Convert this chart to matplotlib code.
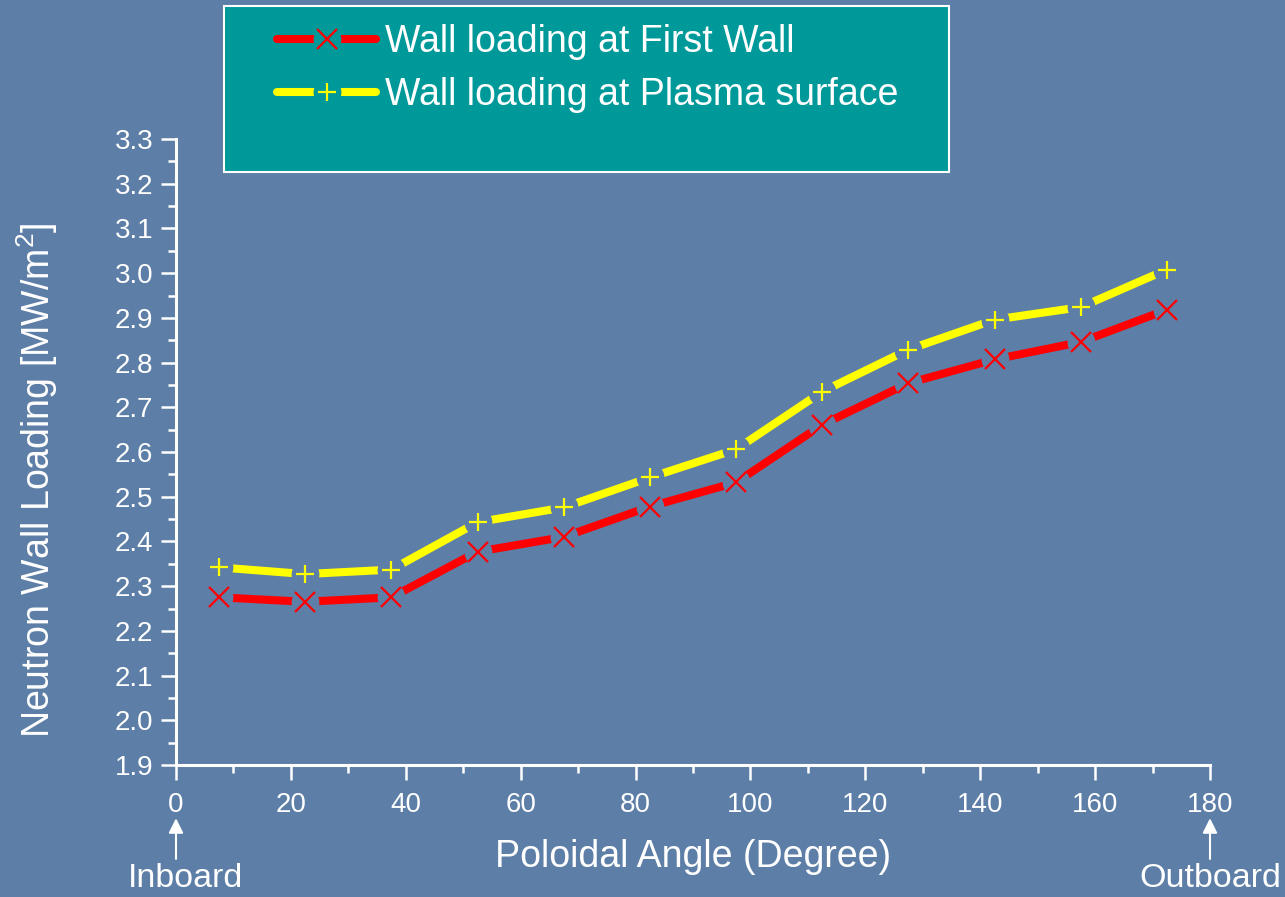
import numpy as np
import matplotlib
matplotlib.use("Agg")
import matplotlib.pyplot as plt
from matplotlib.lines import Line2D
from matplotlib.patches import Rectangle
from matplotlib.legend_handler import HandlerTuple
from matplotlib.ticker import MultipleLocator

plt.rcParams["font.family"] = ["Liberation Sans", "DejaVu Sans"]
plt.rcParams["mathtext.default"] = "regular"

# poloidal angle of each segment centre (degree)
angle = [7.5, 22.5, 37.5, 52.5, 67.5, 82.5, 97.5, 112.5, 127.5, 142.5, 157.5, 172.5]
first_wall = [2.275, 2.265, 2.275, 2.377, 2.41, 2.478, 2.532, 2.661, 2.754, 2.807, 2.846, 2.918]
plasma_surface = [2.342, 2.327, 2.337, 2.443, 2.476, 2.543, 2.606, 2.735, 2.829, 2.896, 2.924, 3.008]

BG = "#5d7ea6"
LEG_BG = "#009999"
RED = "#ff0000"
YELLOW = "#ffff00"

fig = plt.figure(figsize=(12.85, 8.97), dpi=100, facecolor=BG)
ax = fig.add_axes([176 / 1285, 1 - 765 / 897, 1034 / 1285, 626 / 897])
ax.set_facecolor("none")

series = [
    (first_wall, RED, "x", 14, "Wall loading at First Wall"),
    (plasma_surface, YELLOW, "+", 13, "Wall loading at Plasma surface"),
]
handles = []
for k, (vals, col, mk, ms, lab) in enumerate(series):
    z = 2 + 3 * k
    ax.plot(angle, vals, color=col, lw=5.8, solid_capstyle="round", zorder=z)
    # gaps in the line around each marker
    ax.plot(angle, vals, ls="none", marker="o", ms=20, mfc=BG, mec="none", zorder=z + 1)
    ax.plot(angle, vals, ls="none", marker=mk, ms=ms, mec=col, mew=1.6, zorder=z + 2)
    handles.append((
        Line2D([], [], color=col, lw=5.8, solid_capstyle="round"),
        Line2D([], [], ls="none", marker="o", ms=20, mfc=LEG_BG, mec="none"),
        Line2D([], [], ls="none", marker=mk, ms=ms, mec=col, mew=1.6),
    ))

ax.set_xlim(0, 180)
ax.set_ylim(1.9, 3.3)
ax.xaxis.set_major_locator(MultipleLocator(20))
ax.xaxis.set_minor_locator(MultipleLocator(10))
ax.yaxis.set_major_locator(MultipleLocator(0.1))
ax.yaxis.set_minor_locator(MultipleLocator(0.05))
ax.yaxis.set_major_formatter(matplotlib.ticker.FormatStrFormatter("%.1f"))

for s in ["top", "right"]:
    ax.spines[s].set_visible(False)
for s in ["left", "bottom"]:
    ax.spines[s].set_color("white")
    ax.spines[s].set_linewidth(2.2)

ax.tick_params(which="major", length=10.5, width=1.8, color="white",
               labelcolor="white", labelsize=20)
ax.tick_params(which="minor", length=5.5, width=1.8, color="white")
ax.tick_params(axis="y", which="major", pad=6)
ax.tick_params(axis="x", which="major", pad=9)

ax.set_xlabel("Poloidal Angle (Degree)", fontsize=27, color="white")
ax.xaxis.set_label_coords(0.5, -0.118)
ax.set_ylabel("Neutron Wall Loading [MW/m$^2$]", fontsize=27, color="white")
ax.yaxis.set_label_coords(-0.112, 0.455)

# inboard / outboard markers
xt = ax.get_xaxis_transform()
for x, tx, label in [(0, 1.6, "Inboard"), (180, 180, "Outboard")]:
    ax.annotate("", xy=(x, -0.085), xytext=(x, -0.15), xycoords=xt, textcoords=xt,
                arrowprops=dict(arrowstyle="-|>", color="white", lw=1.5,
                                mutation_scale=22, shrinkA=0, shrinkB=0),
                annotation_clip=False)
    ax.text(tx, -0.182, label, transform=xt, ha="center", va="center",
            fontsize=24.5, color="white", clip_on=False)

# legend box
fig.patches.append(Rectangle((224 / 1285, 1 - 172 / 897), 725 / 1285, 166 / 897,
                             transform=fig.transFigure, facecolor=LEG_BG,
                             edgecolor="white", lw=1.5, zorder=0))
fig.legend(handles, [s[4] for s in series], loc="upper left",
           bbox_to_anchor=(277 / 1285, 1 - 24 / 897), frameon=False,
           fontsize=27, labelcolor="white", numpoints=1,
           handlelength=2.64, handletextpad=0.25, labelspacing=0.45,
           borderpad=0, borderaxespad=0,
           handler_map={tuple: HandlerTuple(ndivide=1, pad=0)})

fig.savefig("out.png", dpi=100, facecolor=BG)
